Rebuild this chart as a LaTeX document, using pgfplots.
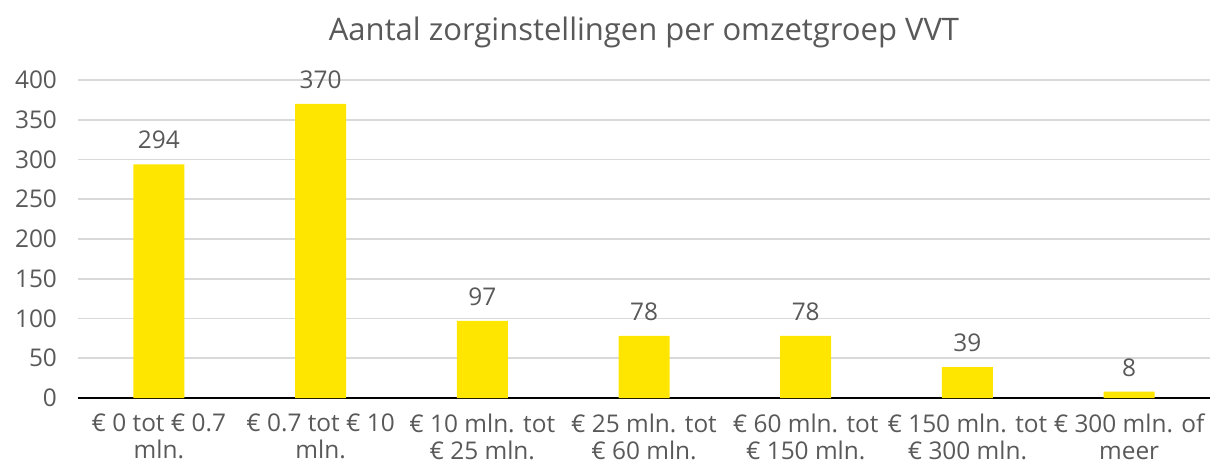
\documentclass[border=0pt]{standalone}
\usepackage{fontspec}
\setmainfont{Open Sans}
\usepackage{pgfplots}
\pgfplotsset{compat=1.18}
\definecolor{eyyellow}{HTML}{FFE600}
\definecolor{txtgray}{HTML}{595959}
\definecolor{gridgray}{HTML}{D9D9D9}
\begin{document}
\begin{tikzpicture}
\begin{axis}[
  name=ax,
  scale only axis,
  width=566pt, height=159pt,
  xmin=-0.5, xmax=6.5,
  ymin=0, ymax=400,
  ytick={0,50,...,400},
  xtick={0,...,6},
  xticklabels={{€ 0 tot € 0.7\\mln.},{€ 0.7 tot € 10\\mln.},{€ 10 mln. tot\\€ 25 mln.},{€ 25 mln. tot\\€ 60 mln.},{€ 60 mln. tot\\€ 150 mln.},{€ 150 mln. tot\\€ 300 mln.},{€ 300 mln. of\\meer}},
  xticklabel style={align=center, font=\fontsize{12.2}{13.5}\selectfont, text=txtgray, yshift=-4.5pt},
  yticklabel style={font=\fontsize{12.2}{13}\selectfont, text=txtgray, xshift=-7pt},
  /pgf/number format/assume math mode=true,
  ymajorgrids, grid style={gridgray, line width=0.8pt},
  major tick length=0pt,
  axis x line*=bottom,
  axis y line*=left,
  y axis line style={draw=none},
  x axis line style={black, line width=0.9pt, -},
  title={Aantal zorginstellingen per omzetgroep VVT},
  title style={font=\fontsize{15.5}{18}\selectfont, text=txtgray, yshift=6.5pt},
  nodes near coords,
  nodes near coords style={font=\fontsize{12.2}{13}\selectfont, text=txtgray, yshift=4pt},
]
\addplot[ybar, bar width=25.5pt, fill=eyyellow, draw=none] coordinates {
  (0,294) (1,370) (2,97) (3,78) (4,78) (5,39) (6,8)
};
\end{axis}
\pgfresetboundingbox
\path ([shift={(-39pt,-35pt)}]ax.south west) rectangle ([shift={(568.5pt,199pt)}]ax.south west);
\end{tikzpicture}
\end{document}
